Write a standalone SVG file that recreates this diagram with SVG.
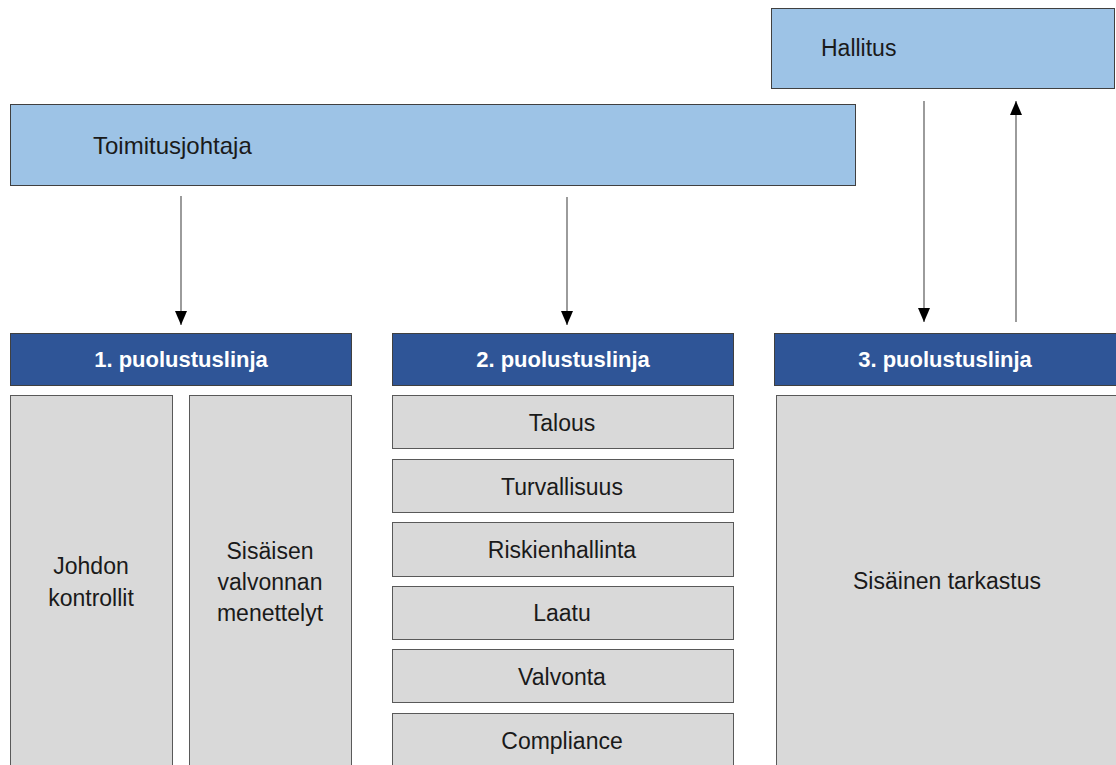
<svg xmlns="http://www.w3.org/2000/svg" width="1116" height="765" viewBox="0 0 1116 765">
<style>
.lb{fill:#9DC3E6;stroke:#404040;stroke-width:1}
.db{fill:#2F5597;stroke:#404040;stroke-width:1}
.gr{fill:#D9D9D9;stroke:#595959;stroke-width:1}
.t{font-family:"Liberation Sans",Arial,sans-serif;font-size:23px;fill:#1a1a1a}
.c{text-anchor:middle}
.h{font-family:"Liberation Sans",Arial,sans-serif;font-size:22px;font-weight:bold;fill:#ffffff;text-anchor:middle}
.ln{stroke:#595959;stroke-width:1.2;fill:none}
</style>
<defs>
<marker id="a" viewBox="0 0 14 12" refX="14" refY="6" markerWidth="14" markerHeight="12" markerUnits="userSpaceOnUse" orient="auto">
<path d="M0,0 L14,6 L0,12 z" fill="#000"/>
</marker>
</defs>
<rect width="1116" height="765" fill="#fff"/>
<g id="hallitus"><rect class="lb" x="771.5" y="8.5" width="343" height="80"/><text class="t" x="821" y="56">Hallitus</text></g>
<g id="toimitusjohtaja"><rect class="lb" x="10.5" y="104.5" width="845" height="81"/><text class="t" x="93" y="154" style="font-size:24px">Toimitusjohtaja</text></g>
<g id="connectors">
<line class="ln" x1="181" y1="196" x2="181" y2="325" marker-end="url(#a)"/>
<line class="ln" x1="567" y1="197" x2="567" y2="325" marker-end="url(#a)"/>
<line class="ln" x1="924" y1="101" x2="924" y2="322" marker-end="url(#a)"/>
<line class="ln" x1="1016" y1="322" x2="1016" y2="101" marker-end="url(#a)"/>
</g>
<g id="linja1"><rect class="db" x="10.5" y="333.5" width="341" height="52"/><text class="h" x="181" y="367">1. puolustuslinja</text></g>
<g id="linja2"><rect class="db" x="392.5" y="333.5" width="341" height="52"/><text class="h" x="563" y="367">2. puolustuslinja</text></g>
<g id="linja3"><rect class="db" x="774.5" y="333.5" width="345" height="52"/><text class="h" x="945" y="367">3. puolustuslinja</text></g>
<g id="johdon"><rect class="gr" x="10.5" y="395.5" width="162" height="380"/><text class="t c" x="91" y="574">Johdon</text><text class="t c" x="91" y="606">kontrollit</text></g>
<g id="sisaisen"><rect class="gr" x="189.5" y="395.5" width="162" height="380"/><text class="t c" x="270" y="559">Sisäisen</text><text class="t c" x="270" y="590">valvonnan</text><text class="t c" x="270" y="621">menettelyt</text></g>
<g id="talous"><rect class="gr" x="392.5" y="395.5" width="341" height="53"/><text class="t c" x="562" y="431">Talous</text></g>
<g id="turvallisuus"><rect class="gr" x="392.5" y="459.5" width="341" height="53"/><text class="t c" x="562" y="495">Turvallisuus</text></g>
<g id="riskienhallinta"><rect class="gr" x="392.5" y="522.5" width="341" height="54"/><text class="t c" x="562" y="558">Riskienhallinta</text></g>
<g id="laatu"><rect class="gr" x="392.5" y="586.5" width="341" height="53"/><text class="t c" x="562" y="621">Laatu</text></g>
<g id="valvonta"><rect class="gr" x="392.5" y="649.5" width="341" height="53"/><text class="t c" x="562" y="685">Valvonta</text></g>
<g id="compliance"><rect class="gr" x="392.5" y="713.5" width="341" height="60"/><text class="t c" x="562" y="749">Compliance</text></g>
<g id="tarkastus"><rect class="gr" x="776.5" y="395.5" width="345" height="380"/><text class="t c" x="947" y="589">Sisäinen tarkastus</text></g>
</svg>
